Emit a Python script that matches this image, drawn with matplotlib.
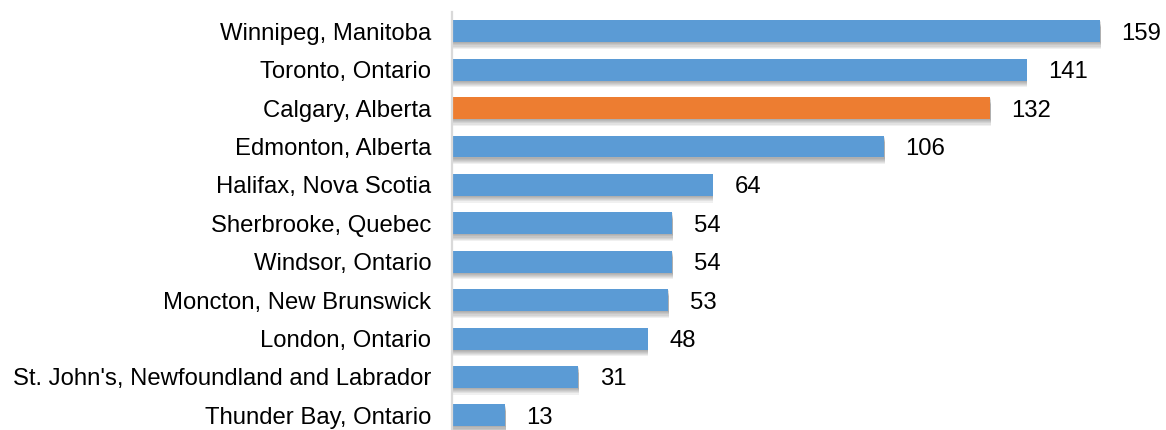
import matplotlib
matplotlib.use("Agg")
import matplotlib.pyplot as plt
import matplotlib.patheffects as pe

cities = ["Winnipeg, Manitoba", "Toronto, Ontario", "Calgary, Alberta",
          "Edmonton, Alberta", "Halifax, Nova Scotia", "Sherbrooke, Quebec",
          "Windsor, Ontario", "Moncton, New Brunswick", "London, Ontario",
          "St. John's, Newfoundland and Labrador", "Thunder Bay, Ontario"]
values = [159, 141, 132, 106, 64, 54, 54, 53, 48, 31, 13]
highlight = "Calgary, Alberta"

plt.rcParams['font.family'] = ['Liberation Sans', 'DejaVu Sans']

fig = plt.figure(figsize=(11.66, 4.30), dpi=100)
ax = fig.add_axes([452 / 1166, 0.0, 714 / 1166, 418 / 430])

colors = ['#ED7D31' if c == highlight else '#5B9BD5' for c in cities]
pos = list(range(len(cities)))[::-1]

# soft drop shadow under each bar
shadow = [pe.SimplePatchShadow(offset=(0.4, -k), shadow_rgbFace='black', alpha=0.06)
          for k in (0.8, 1.6, 2.4, 3.2, 4.0, 4.8)] + [pe.Normal()]

bars = ax.barh(pos, values, height=0.57, color=colors)
for b in bars:
    b.set_path_effects(shadow)

for p, v in zip(pos, values):
    ax.text(v + 5.3, p, str(v), va='center_baseline', ha='left', fontsize=17.2, color='#000000')

ax.set_yticks(pos)
ax.set_yticklabels(cities, fontsize=17.2)
ax.tick_params(axis='y', length=0, pad=15)
ax.set_xticks([])
ax.set_xlim(0, 175.2)
ax.set_ylim(-0.38, 10.5)

for s in ['top', 'right', 'bottom']:
    ax.spines[s].set_visible(False)
ax.spines['left'].set_color('#D9D9D9')
ax.spines['left'].set_linewidth(1.6)

fig.savefig("out.png", dpi=100)
